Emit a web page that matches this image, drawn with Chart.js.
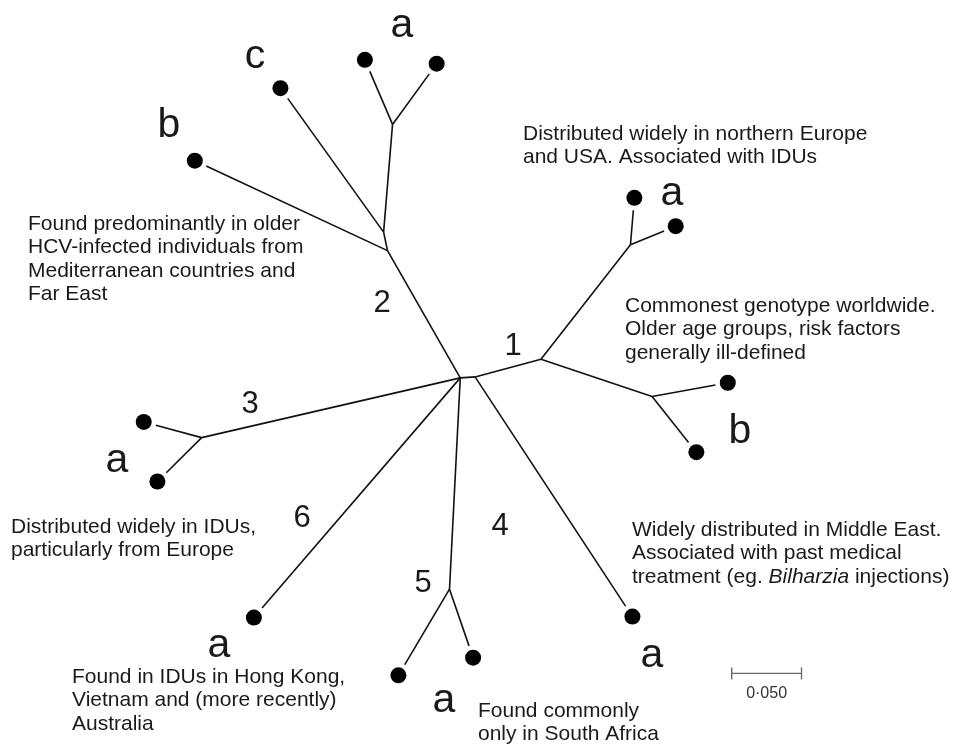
<!DOCTYPE html>
<html>
<head>
<meta charset="utf-8">
<script src="https://cdn.jsdelivr.net/npm/chart.js@4.4.1/dist/chart.umd.min.js"></script>
<style>
  html, body { margin: 0; padding: 0; background: #fff; }
  canvas { display: block; }
</style>
</head>
<body>
<canvas id="tree" width="958" height="744"></canvas>
<script>
// Unrooted tree of HCV genotypes 1-6.
// Node coordinates are in units of 0.001 nucleotide substitutions per site.
const nodeIds   = ['A', 'B', 'N1', 'N1a', '1a1', '1a2', 'N1b', '1b1', '1b2', '4a',
                   'N2', 'N2x', 'N2a', '2a1', '2a2', '2c', '2b',
                   'N3', '3a1', '3a2', '6a', 'N5', '5a1', '5a2'];
const nodeX     = [323.9, 334.5, 381.7, 445.8, 448.6, 478.2, 461.3, 515.5, 493.0, 447.2,
                   271.8, 269.0, 275.4, 255.6, 307.0, 195.1, 133.8,
                   138.7, 97.2, 107.0, 176.1, 316.2, 279.6, 333.1];
const nodeY     = [266.2, 265.5, 252.8, 170.4, 136.6, 157.0, 279.6, 269.7, 319.7, 438.0,
                   174.6, 161.3, 83.8, 37.3, 40.1, 57.7, 109.9,
                   309.2, 297.9, 340.8, 438.7, 418.3, 480.3, 467.6];
const parentIds = [null, 'A', 'B', 'N1', 'N1a', 'N1a', 'N1', 'N1b', 'N1b', 'B',
                   'A', 'N2', 'N2x', 'N2a', 'N2a', 'N2x', 'N2',
                   'A', 'N3', 'N3', 'A', 'A', 'N5', 'N5'];
const leafIds   = ['1a1', '1a2', '1b1', '1b2', '4a', '2a1', '2a2', '2c', '2b', '3a1', '3a2', '6a', '5a1', '5a2'];

// Scale bar: 0.050 substitutions per site
const scaleBarValue = 50;
const scaleBarLabel = '0·050';

// Genotype numbers and subtype letters
const genotypeNames = ['1', '2', '3', '4', '5', '6'];
const subtypeNames  = ['a', 'b', 'a', 'b', 'c', 'a', 'a', 'a', 'a'];

// Epidemiological notes for each genotype
const notes = [
  ['Distributed widely in northern Europe', 'and USA. Associated with IDUs'],
  ['Commonest genotype worldwide.', 'Older age groups, risk factors', 'generally ill-defined'],
  ['Found predominantly in older', 'HCV-infected individuals from', 'Mediterranean countries and', 'Far East'],
  ['Distributed widely in IDUs,', 'particularly from Europe'],
  ['Found in IDUs in Hong Kong,', 'Vietnam and (more recently)', 'Australia'],
  ['Found commonly', 'only in South Africa'],
  ['Widely distributed in Middle East.', 'Associated with past medical', 'treatment (eg. |Bilharzia| injections)']
];

// ---- layout (canvas pixels) ----
const X_MAX = 958 / 1.42, Y_MAX = 744 / 1.42;
const LEAF_GAP = 9;          // branch stops short of the leaf dot (data units)
const scaleBarAt = { x: 518.3, y: 478.9 };
const genotypePos = [[513, 355], [382, 312], [250, 413], [500, 535], [423, 592], [302, 527]];
const subtypePos  = [[672, 205], [740, 443], [402, 37], [169, 137], [255, 68], [117, 472], [219, 657], [444, 712], [652, 667]];
const notePos     = [[523, 140], [625, 312], [28, 230], [11, 533], [72, 683], [478, 717], [632, 536]];
const NOTE_LINE = 23.3;
const TEXT_FONT = '"Liberation Sans", Arial, Helvetica, sans-serif';

const idx = id => nodeIds.indexOf(id);

// One dataset per branch
const branchSets = [];
nodeIds.forEach((id, i) => {
  const p = parentIds[i];
  if (p === null) return;
  const j = idx(p);
  let x2 = nodeX[i], y2 = nodeY[i];
  if (leafIds.includes(id)) {
    const dx = nodeX[i] - nodeX[j], dy = nodeY[i] - nodeY[j];
    const len = Math.hypot(dx, dy);
    x2 = nodeX[i] - dx / len * LEAF_GAP;
    y2 = nodeY[i] - dy / len * LEAF_GAP;
  }
  branchSets.push({
    type: 'scatter',
    data: [{ x: nodeX[j], y: nodeY[j] }, { x: x2, y: y2 }],
    showLine: true,
    borderColor: '#111',
    borderWidth: 1.6,
    pointRadius: 0,
    clip: false
  });
});

const leafSet = {
  type: 'scatter',
  data: leafIds.map(id => ({ x: nodeX[idx(id)], y: nodeY[idx(id)] })),
  showLine: false,
  pointRadius: 8,
  pointBackgroundColor: '#000',
  pointBorderWidth: 0,
  clip: false
};

const scaleSet = {
  type: 'scatter',
  data: [{ x: scaleBarAt.x, y: scaleBarAt.y }, { x: scaleBarAt.x + scaleBarValue, y: scaleBarAt.y }],
  showLine: true,
  borderColor: '#6a6a6a',
  borderWidth: 1.4,
  pointStyle: 'line',
  rotation: 90,
  pointRadius: 6,
  pointBorderColor: '#6a6a6a',
  pointBorderWidth: 1.4,
  clip: false
};

const textPlugin = {
  id: 'treeText',
  afterDatasetsDraw(chart) {
    const ctx = chart.ctx;
    const xs = chart.scales.x, ys = chart.scales.y;
    ctx.save();
    ctx.textBaseline = 'alphabetic';
    ctx.fillStyle = '#1a1a1a';

    ctx.textAlign = 'center';
    ctx.font = '31px ' + TEXT_FONT;
    genotypeNames.forEach((t, i) => ctx.fillText(t, genotypePos[i][0], genotypePos[i][1]));

    ctx.font = '41px ' + TEXT_FONT;
    subtypeNames.forEach((t, i) => ctx.fillText(t, subtypePos[i][0], subtypePos[i][1]));

    ctx.textAlign = 'left';
    notes.forEach((lines, n) => {
      lines.forEach((line, k) => {
        let x = notePos[n][0];
        const y = notePos[n][1] + k * NOTE_LINE;
        line.split('|').forEach((part, s) => {
          ctx.font = (s % 2 ? 'italic ' : '') + '21px ' + TEXT_FONT;
          ctx.fillText(part, x, y);
          x += ctx.measureText(part).width;
        });
      });
    });

    // scale bar caption
    ctx.textAlign = 'center';
    ctx.fillStyle = '#333';
    ctx.font = '16px ' + TEXT_FONT;
    const cx = (xs.getPixelForValue(scaleBarAt.x) + xs.getPixelForValue(scaleBarAt.x + scaleBarValue)) / 2;
    ctx.fillText(scaleBarLabel, cx, ys.getPixelForValue(scaleBarAt.y) + 25);
    ctx.restore();
  }
};

new Chart(document.getElementById('tree'), {
  type: 'scatter',
  data: { datasets: [...branchSets, leafSet, scaleSet] },
  options: {
    responsive: false,
    animation: false,
    layout: { padding: 0 },
    plugins: { legend: { display: false }, tooltip: { enabled: false } },
    scales: {
      x: { type: 'linear', min: 0, max: X_MAX, display: false },
      y: { type: 'linear', min: 0, max: Y_MAX, reverse: true, display: false }
    }
  },
  plugins: [textPlugin]
});
</script>
</body>
</html>
